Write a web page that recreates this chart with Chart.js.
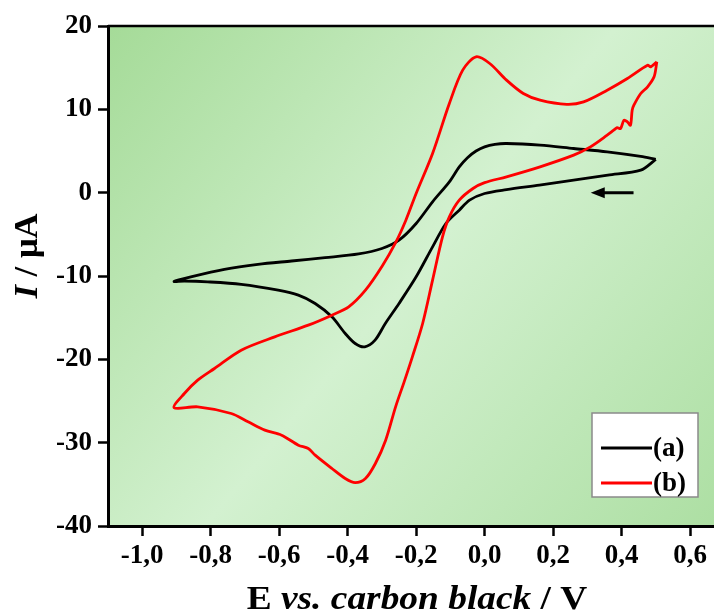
<!DOCTYPE html>
<html>
<head>
<meta charset="utf-8">
<title>CV</title>
<script src="https://cdn.jsdelivr.net/npm/chart.js@4.4.1/dist/chart.umd.min.js"></script>
<style>
  html, body { margin: 0; padding: 0; background: #fff; overflow: hidden; }
</style>
</head>
<body>
<canvas id="cv-chart" width="714" height="615"></canvas>
<script>
// cyclic voltammograms, scan starts at +0.5 V going cathodic
const potentialA = [0.50, 0.456, 0.36, 0.26, 0.16, 0.064, 0.0, -0.044, -0.074, -0.113, -0.152, -0.2, -0.25, -0.29, -0.32, -0.35, -0.378, -0.407, -0.446, -0.495, -0.544, -0.603, -0.711, -0.809, -0.877, -0.907,
  -0.858, -0.76, -0.662, -0.564, -0.466, -0.368, -0.3, -0.25, -0.2, -0.152, -0.103, -0.074, -0.05, -0.025, 0.0, 0.03, 0.064, 0.162, 0.26, 0.358, 0.456, 0.50];
const currentA = [4.0, 2.7, 2.1, 1.5, 0.9, 0.36, -0.1, -0.9, -2.1, -3.7, -6.5, -10.1, -13.3, -15.7, -17.7, -18.5, -18.1, -16.9, -14.9, -13.3, -12.3, -11.7, -11.0, -10.7, -10.6, -10.65,
  -10.1, -9.2, -8.6, -8.2, -7.8, -7.35, -6.7, -5.7, -3.7, -1.1, 1.3, 3.1, 4.2, 5.0, 5.5, 5.8, 5.9, 5.7, 5.3, 4.9, 4.35, 4.0];

const potentialB = [0.503, 0.495, 0.476, 0.456, 0.436, 0.431, 0.426, 0.417, 0.407, 0.397, 0.387, 0.377, 0.358, 0.309, 0.26, 0.162, 0.064, 0.0, -0.034, -0.074, -0.103, -0.123, -0.152, -0.181, -0.211, -0.235, -0.26, -0.289, -0.319, -0.348, -0.378, -0.407, -0.446, -0.495, -0.515, -0.544, -0.593, -0.642, -0.691, -0.74, -0.838, -0.907,
  -0.877, -0.838, -0.789, -0.711, -0.613, -0.515, -0.446, -0.397, -0.348, -0.299, -0.26, -0.23, -0.2, -0.152, -0.103, -0.064, -0.025, 0.015, 0.064, 0.113, 0.162, 0.24, 0.289, 0.358, 0.417, 0.476, 0.485, 0.503];
const currentB = [15.7, 13.9, 12.7, 11.9, 10.5, 9.9, 8.1, 8.5, 8.7, 7.7, 7.8, 7.5, 6.9, 5.5, 4.5, 3.1, 1.9, 1.2, 0.5, -0.9, -2.9, -5.3, -10.5, -15.7, -19.7, -22.7, -25.7, -29.7, -32.5, -34.3, -34.8, -34.3, -33.1, -31.5, -30.7, -30.3, -29.1, -28.5, -27.5, -26.5, -25.7, -25.8,
  -24.1, -22.5, -21.1, -18.9, -17.3, -15.9, -14.7, -13.7, -11.7, -8.8, -6.0, -3.3, -0.1, 4.7, 10.7, 14.7, 16.3, 15.5, 13.5, 11.9, 11.1, 10.6, 10.9, 12.3, 13.7, 15.3, 15.1, 15.7];

const xTicks = [-1.0, -0.8, -0.6, -0.4, -0.2, 0.0, 0.2, 0.4, 0.6];
const yTicks = [-40, -30, -20, -10, 0, 10, 20];

// scan direction arrow: from / to potential, at current level
const arrowFrom = 0.435;
const arrowTo = 0.31;
const arrowLevel = 0;

const serif = '"Liberation Serif", "Times New Roman", serif';

const toPoints = (xs, ys) => xs.map((x, i) => ({ x: x, y: ys[i] }));

const cvDecor = {
  id: 'cvDecor',
  beforeDraw(chart) {
    const { ctx, chartArea: a } = chart;
    const g = ctx.createLinearGradient(a.left, a.top, a.right, a.bottom);
    g.addColorStop(0, '#a5db98');
    g.addColorStop(0.5, '#d3f1d0');
    g.addColorStop(1, '#addfa3');
    ctx.save();
    ctx.fillStyle = g;
    ctx.fillRect(a.left, a.top, a.right - a.left, a.bottom - a.top);
    ctx.restore();
  },
  afterDraw(chart) {
    const { ctx, chartArea: a, scales } = chart;
    ctx.save();

    // top frame line
    ctx.strokeStyle = '#000';
    ctx.lineWidth = 2.5;
    ctx.beginPath();
    ctx.moveTo(a.left, a.top);
    ctx.lineTo(a.right, a.top);
    ctx.stroke();

    // arrow
    const x0 = scales.x.getPixelForValue(arrowFrom);
    const x1 = scales.x.getPixelForValue(arrowTo);
    const ya = scales.y.getPixelForValue(arrowLevel);
    ctx.lineWidth = 3;
    ctx.beginPath();
    ctx.moveTo(x0, ya);
    ctx.lineTo(x1 + 10, ya);
    ctx.stroke();
    ctx.fillStyle = '#000';
    ctx.beginPath();
    ctx.moveTo(x1, ya);
    ctx.lineTo(x1 + 14, ya - 5.5);
    ctx.lineTo(x1 + 14, ya + 5.5);
    ctx.closePath();
    ctx.fill();

    // legend box
    const bw = 106, bh = 84;
    const bx = a.right - 16 - bw, by = a.bottom - 29 - bh;
    ctx.fillStyle = '#fff';
    ctx.fillRect(bx, by, bw, bh);
    ctx.strokeStyle = '#8a8a8a';
    ctx.lineWidth = 1.5;
    ctx.strokeRect(bx, by, bw, bh);
    ctx.font = 'bold 27px ' + serif;
    ctx.textBaseline = 'middle';
    ctx.textAlign = 'left';
    chart.data.datasets.forEach((ds, i) => {
      const ly = by + 35 + i * 35;
      ctx.strokeStyle = ds.borderColor;
      ctx.lineWidth = 3;
      ctx.beginPath();
      ctx.moveTo(bx + 9, ly);
      ctx.lineTo(bx + 60, ly);
      ctx.stroke();
      ctx.fillStyle = '#000';
      ctx.fillText(ds.label, bx + 61, ly + 1);
    });

    // axis titles, mixed upright / italic; sx widens the glyphs a little
    const drawParts = (parts, cx, cy, size, sx) => {
      let total = 0;
      parts.forEach(p => { ctx.font = p[1] + ' ' + size + 'px ' + serif; total += ctx.measureText(p[0]).width; });
      ctx.save();
      ctx.translate(cx, cy);
      ctx.scale(sx, 1);
      let x = -total / 2;
      parts.forEach(p => {
        ctx.font = p[1] + ' ' + size + 'px ' + serif;
        ctx.fillText(p[0], x, 0);
        x += ctx.measureText(p[0]).width;
      });
      ctx.restore();
    };
    ctx.fillStyle = '#000';
    ctx.textBaseline = 'alphabetic';
    ctx.textAlign = 'left';
    drawParts([['E ', 'bold'], ['vs. carbon black', 'italic bold'], [' / V', 'bold']], 417, 609, 34, 1.1);

    ctx.translate(37, 256);
    ctx.rotate(-Math.PI / 2);
    drawParts([['I', 'italic bold'], [' / \u03bcA', 'bold']], 0, 0, 33, 1.05);

    ctx.restore();
  }
};

const tickFont = { family: serif, size: 27, weight: 'bold' };

const chart = new Chart(document.getElementById('cv-chart').getContext('2d'), {
  type: 'line',
  data: {
    datasets: [
      {
        label: '(a)',
        data: toPoints(potentialA, currentA),
        borderColor: '#000000',
        borderWidth: 2.8,
        order: 1
      },
      {
        label: '(b)',
        data: toPoints(potentialB, currentB),
        borderColor: '#ff0000',
        borderWidth: 2.8,
        order: 0
      }
    ]
  },
  options: {
    responsive: false,
    devicePixelRatio: 1,
    animation: false,
    layout: { padding: { top: 26, right: 0, left: 0, bottom: 0 } },
    elements: {
      point: { radius: 0 },
      line: { tension: 0.3, fill: false }
    },
    plugins: {
      legend: { display: false },
      tooltip: { enabled: false }
    },
    scales: {
      x: {
        type: 'linear',
        min: -1.1,
        max: 0.67,
        afterBuildTicks: (scale) => { scale.ticks = xTicks.map(v => ({ value: v })); },
        afterFit: (scale) => { scale.height = 89; },
        ticks: {
          color: '#000',
          font: tickFont,
          padding: 4,
          maxRotation: 0,
          callback: (v) => v.toFixed(1).replace('.', ',')
        },
        grid: { drawOnChartArea: false, tickLength: 10, tickWidth: 2.5, tickColor: '#000' },
        border: { color: '#000', width: 3 }
      },
      y: {
        min: -40,
        max: 20,
        afterBuildTicks: (scale) => { scale.ticks = yTicks.map(v => ({ value: v })); },
        afterFit: (scale) => { scale.width = 108; },
        ticks: {
          color: '#000',
          font: tickFont,
          padding: 6,
          callback: (v) => String(v)
        },
        grid: { drawOnChartArea: false, tickLength: 10, tickWidth: 2.5, tickColor: '#000' },
        border: { color: '#000', width: 3 }
      }
    }
  },
  plugins: [cvDecor]
});
</script>
</body>
</html>
